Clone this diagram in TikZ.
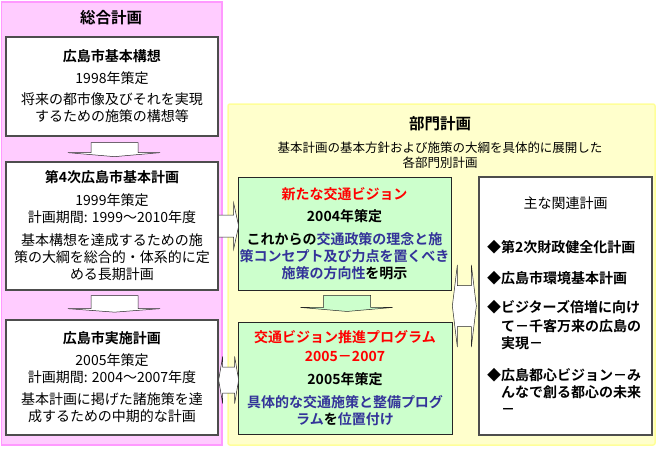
\documentclass[tikz,border=0pt]{standalone}
\usepackage{fontspec}
\setmainfont{Noto Sans CJK JP}[BoldFont={Noto Sans CJK JP Bold}]
\usetikzlibrary{calc}
\definecolor{pinkfill}{HTML}{FFCCFF}
\definecolor{pinkline}{HTML}{FF99FF}
\definecolor{yelfill}{HTML}{FFFFCC}
\definecolor{yelline}{HTML}{FFFF99}
\definecolor{grnfill}{HTML}{CCFFCC}
\definecolor{navytext}{HTML}{333399}
\definecolor{boxline}{HTML}{4D4D4D}
\tikzset{
  planbox/.style={draw=boxline, line width=1.3pt, fill=white, align=center,
    inner sep=0pt, font=\fontsize{14}{17}\selectfont},
  visionbox/.style={draw=black!85, line width=0.9pt, fill=grnfill, align=center,
    inner sep=0pt, font=\fontsize{14}{17}\selectfont\bfseries},
  relbox/.style={draw=boxline, line width=1.3pt, fill=white, align=left,
    inner xsep=8pt, inner ysep=0pt, text width=157pt, font=\fontsize{14}{17}\selectfont},
  paneltitle/.style={font=\fontsize{15.5}{18}\selectfont\bfseries},
  blockarr/.style={draw=black!85, line width=0.5pt, fill=white, line join=miter}
}
\begin{document}
\begin{tikzpicture}[x=1pt, y=-1pt]
        \useasboundingbox (0,0) rectangle (657,448);

        % 総合計画
        \draw[pinkline, fill=pinkfill, line width=1.5pt] (1.5,2) rectangle (222,445);
        \node[paneltitle] (sogo) at (111,18) {総合計画};

        \node[planbox, minimum width=212pt, minimum height=99pt] (koso) at (112,86.5)
          {{\bfseries 広島市基本構想}\\[5pt] 1998年策定\\[4pt]
           将来の都市像及びそれを実現\\するための施策の構想等};
        \node[planbox, minimum width=212pt, minimum height=128pt] (keikaku) at (112,226)
          {{\bfseries 第4次広島市基本計画}\\[6pt] 1999年策定\\ 計画期間: 1999～2010年度\\[6pt]
           基本構想を達成するための施\\策の大綱を総合的・体系的に定\\める長期計画};
        \node[planbox, minimum width=212pt, minimum height=115pt] (jisshi) at (112,377.5)
          {{\bfseries 広島市実施計画}\\[5pt] 2005年策定\\ 計画期間: 2004～2007年度\\[5pt]
           基本計画に掲げた諸施策を達\\成するための中期的な計画};

        % 部門計画
        \draw[yelline, fill=yelfill, line width=1.5pt, rounded corners=2pt] (228,104) rectangle (655,445);
        \node[paneltitle] (bumon) at (440,124) {部門計画};
        \node[align=center, font=\fontsize{12.5}{15}\selectfont] (bumonsub) at (440,155)
          {基本計画の基本方針および施策の大綱を具体的に展開した\\各部門別計画};

        \node[visionbox, minimum width=213pt, minimum height=113pt] (vision) at (344.5,233.5)
          {\textcolor{red}{新たな交通ビジョン}\\[5pt] 2004年策定\\[6pt]
           これからの\textcolor{navytext}{交通政策の理念と施}\\
           \textcolor{navytext}{策コンセプト及び力点を置くべき}\\
           \textcolor{navytext}{施策の方向性}を明示};
        \node[visionbox, minimum width=214pt, minimum height=112pt] (program) at (345,378)
          {\textcolor{red}{交通ビジョン推進プログラム}\\[2pt]
           \textcolor{red}{2005－2007}\\[6pt] 2005年策定\\[6pt]
           \textcolor{navytext}{具体的な交通施策と整備プログ}\\
           \textcolor{navytext}{ラム}を\textcolor{navytext}{位置付け}};

        \node[relbox, minimum height=258pt] (kanren) at (565.5,306)
          {\makebox[157pt]{主な関連計画}\\[27pt]
           {\bfseries ◆第2次財政健全化計画}\\[14pt]
           {\bfseries ◆広島市環境基本計画}\\[12pt]
           {\bfseries ◆ビジターズ倍増に向け}\\[2pt]
           {\bfseries \hspace*{14pt}て－千客万来の広島の}\\
           {\bfseries \hspace*{14pt}実現－}\\[15pt]
           {\bfseries ◆広島都心ビジョン－み}\\
           {\bfseries \hspace*{14pt}んなで創る都心の未来}\\
           {\bfseries \hspace*{14pt}－}};

        % 矢印
        \draw[blockarr] ($(koso.south)+(-21,6)$) -- ++(47,0) -- ++(0,10) -- ++(22,0)
          -- ++(-45.5,4) -- ++(-46.5,-4) -- ++(23,0) -- cycle;
        \draw[blockarr] ($(keikaku.south)+(-21,5)$) -- ++(47,0) -- ++(0,13) -- ++(22,0)
          -- ++(-45.5,3.5) -- ++(-46.5,-3.5) -- ++(23,0) -- cycle;
        \draw[blockarr, fill=grnfill] ($(vision.south)+(-21,5)$) -- ++(47,0) -- ++(0,12) -- ++(22,0)
          -- ++(-45.5,4) -- ++(-46.5,-4) -- ++(23,0) -- cycle;
        \draw[blockarr] ($(keikaku.east)+(0,-11)$) -- ++(15,0) -- ++(0,-12) -- ++(5,23)
          -- ++(-5,23) -- ++(0,-12) -- ++(-15,0) -- cycle;
        \draw[blockarr] ($(jisshi.east)+(0,2.5)$) -- ++(4,-23.5) -- ++(0,10.5) -- ++(12,0)
          -- ++(0,-10.5) -- ++(4,23.5) -- ++(-4,23.5) -- ++(0,-10.5) -- ++(-12,0)
          -- ++(0,10.5) -- cycle;
        \draw[blockarr] ($(kanren.west)+(-2,0)$) -- ++(-5,-41) -- ++(0,20.5) -- ++(-14,0)
          -- ++(0,-20.5) -- ++(-5,41) -- ++(5,41) -- ++(0,-20.5) -- ++(14,0)
          -- ++(0,20.5) -- cycle;
    \end{tikzpicture}
\end{document}
